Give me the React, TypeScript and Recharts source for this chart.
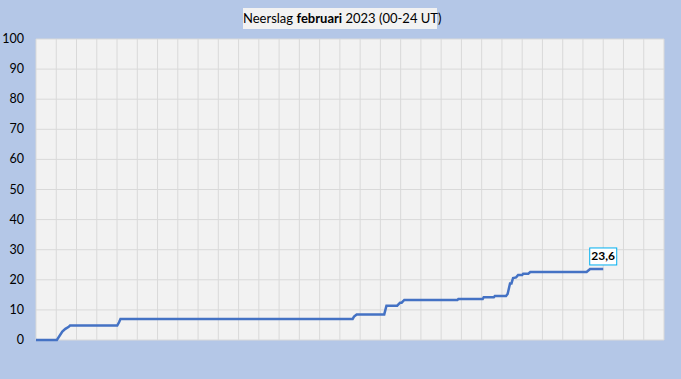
import React from "react";
import { LineChart, Line, XAxis, YAxis, CartesianGrid, LabelList } from "recharts";

const days = [0, 1.03, 1.3, 1.45, 1.6, 1.68, 4.01, 4.1, 4.17, 15.63, 15.7, 15.83, 17.19, 17.3, 17.83, 17.97, 18.05, 18.18, 20.8, 20.85, 22.05, 22.1, 22.6, 22.65, 23.2, 23.28, 23.4, 23.47, 23.55, 23.7, 23.8, 24.0, 24.05, 24.3, 24.4, 27.18, 27.35, 28.0];
const rain = [0, 0, 2.8, 3.7, 4.3, 4.8, 4.8, 5.9, 7.0, 7.0, 7.8, 8.5, 8.5, 11.4, 11.4, 12.4, 12.4, 13.3, 13.3, 13.6, 13.6, 14.2, 14.2, 14.6, 14.6, 15.3, 18.8, 18.8, 20.6, 20.8, 21.6, 21.6, 22.0, 22.0, 22.6, 22.6, 23.6, 23.6];
const finalLabel = "23,6";
const dayTicks = Array.from({ length: 32 }, (_, i) => i);
const rainTicks = [0, 10, 20, 30, 40, 50, 60, 70, 80, 90, 100];

const data = days.map((d, i) => ({ day: d, rain: rain[i] }));

const FONT = "Lato, 'Open Sans', sans-serif";

const YTick = (props: any) => {
  const { y, payload } = props;
  return (
    <text x={24} y={y} dy={4} textAnchor="end" fontFamily={FONT} fontSize={12.5} fill="#000">
      {payload.value}
    </text>
  );
};

const EmptyTick = () => <g />;

const EndLabel = (props: any) => {
  const { x, y, index } = props;
  if (index !== data.length - 1) return null;
  const w = 27;
  const h = 17;
  return (
    <g>
      <rect x={x - w / 2} y={y - 4 - h} width={w} height={h} fill="#ffffff" stroke="#00b0f0" strokeWidth={1} />
      <text x={x} y={y - 4 - h / 2} dy={4} textAnchor="middle" fontFamily={FONT} fontSize={12} fontWeight="bold" fill="#000">
        {finalLabel}
      </text>
    </g>
  );
};

export default function App() {
  return (
    <div style={{ position: "absolute", left: 0, top: 0, width: 681, height: 379, background: "#b4c7e7" }}>
      <LineChart width={681} height={379} data={data} margin={{ top: 39, right: 17, left: 0, bottom: 0 }}>
        <CartesianGrid fill="#f2f2f2" stroke="#d9d9d9" strokeWidth={1} />
        <XAxis
          dataKey="day"
          type="number"
          domain={[0, 31]}
          ticks={dayTicks}
          interval={0}
          tick={<EmptyTick />}
          tickLine={false}
          axisLine={false}
          height={39}
        />
        <YAxis
          type="number"
          domain={[0, 100]}
          ticks={rainTicks}
          interval={0}
          width={36}
          tick={<YTick />}
          tickLine={false}
          axisLine={false}
        />
        <Line
          type="linear"
          dataKey="rain"
          stroke="#4472c4"
          strokeWidth={2.5}
          dot={false}
          isAnimationActive={false}
        >
          <LabelList dataKey="rain" content={<EndLabel />} />
        </Line>
      </LineChart>
      <div
        style={{
          position: "absolute",
          left: 243,
          top: 8,
          width: 194,
          height: 21,
          background: "#f2f2f2",
          fontFamily: FONT,
          fontSize: 13,
          lineHeight: "21px",
          textAlign: "center",
          color: "#000",
          whiteSpace: "nowrap",
        }}
      >
        Neerslag <b>februari</b> 2023 (00-24 UT)
      </div>
    </div>
  );
}
